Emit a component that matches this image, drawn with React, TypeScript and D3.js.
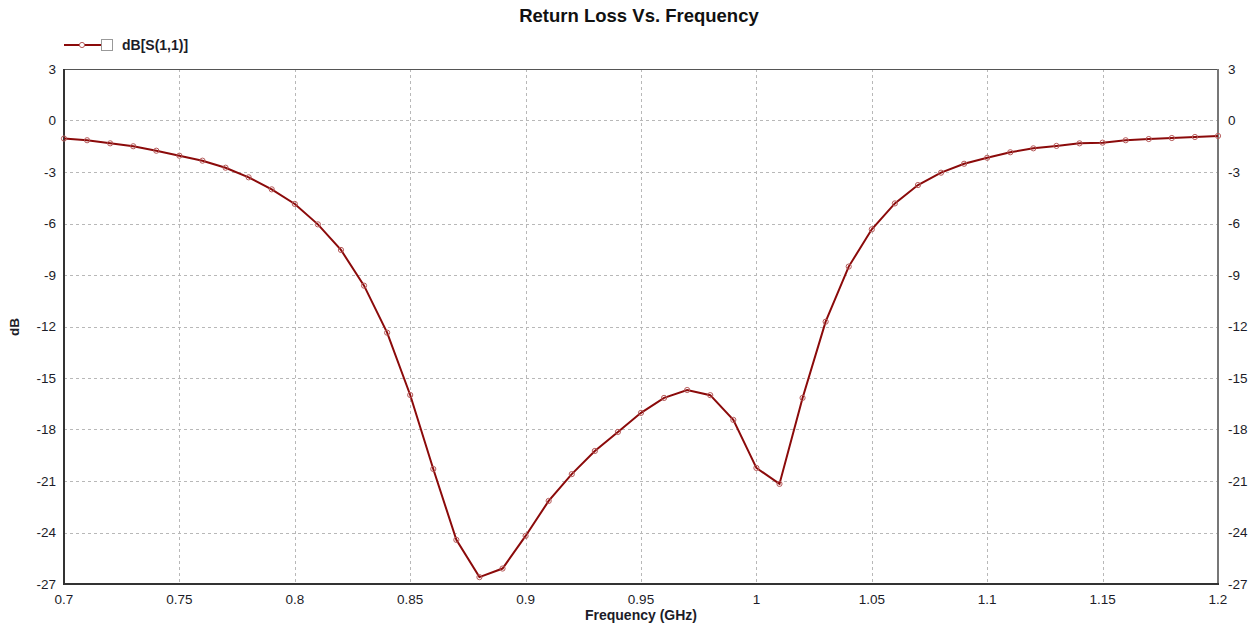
import React, { useEffect, useRef } from "react"
import * as d3 from "d3"

const freqs = [
  0.7, 0.71, 0.72, 0.73, 0.74, 0.75, 0.76, 0.77, 0.78, 0.79, 0.8, 0.81, 0.82, 0.83, 0.84, 0.85, 0.86,
  0.87, 0.88, 0.89, 0.9, 0.91, 0.92, 0.93, 0.94, 0.95, 0.96, 0.97, 0.98, 0.99, 1.0, 1.01, 1.02, 1.03,
  1.04, 1.05, 1.06, 1.07, 1.08, 1.09, 1.1, 1.11, 1.12, 1.13, 1.14, 1.15, 1.16, 1.17, 1.18, 1.19, 1.2,
]
const s11 = [
  -1.05, -1.15, -1.33, -1.5, -1.76, -2.05, -2.34, -2.75, -3.31, -4.01, -4.86, -6.05, -7.54, -9.62,
  -12.36, -15.99, -20.3, -24.43, -26.6, -26.1, -24.2, -22.16, -20.6, -19.25, -18.14, -17.03, -16.16,
  -15.7, -16.0, -17.44, -20.24, -21.17, -16.16, -11.72, -8.51, -6.34, -4.83, -3.76, -3.04, -2.52,
  -2.17, -1.85, -1.62, -1.48, -1.33, -1.29, -1.15, -1.08, -1.02, -0.96, -0.9,
]
const xTicks = [0.7, 0.75, 0.8, 0.85, 0.9, 0.95, 1, 1.05, 1.1, 1.15, 1.2]
const yTicks = [3, 0, -3, -6, -9, -12, -15, -18, -21, -24, -27]
const seriesName = "dB[S(1,1)]"

export default function App() {
  const ref = useRef<SVGSVGElement>(null)

  useEffect(() => {
    const width = 1257
    const height = 635
    const margin = { left: 64, right: 39, top: 69, bottom: 51 }
    const svg = d3.select(ref.current)
    svg.selectAll("*").remove()
    const font = "'Liberation Sans', Arial, sans-serif"
    const narrow = "'Liberation Sans Narrow', 'Arial Narrow', 'Liberation Sans', sans-serif"

    const x = d3.scaleLinear().domain([0.7, 1.2]).range([margin.left, width - margin.right])
    const y = d3.scaleLinear().domain([-27, 3]).range([height - margin.bottom, margin.top])

    // grid
    const grid = svg.append("g").attr("stroke", "#b8b8b8").attr("stroke-dasharray", "3,3").attr("stroke-width", 1)
    grid
      .selectAll("line.v")
      .data(xTicks.slice(1, -1))
      .join("line")
      .attr("x1", (d) => Math.round(x(d)) + 0.5)
      .attr("x2", (d) => Math.round(x(d)) + 0.5)
      .attr("y1", margin.top)
      .attr("y2", height - margin.bottom)
    grid
      .selectAll("line.h")
      .data(yTicks.slice(1, -1))
      .join("line")
      .attr("y1", (d) => Math.round(y(d)) + 0.5)
      .attr("y2", (d) => Math.round(y(d)) + 0.5)
      .attr("x1", margin.left)
      .attr("x2", width - margin.right)

    // frame
    const x0 = margin.left
    const x1 = width - margin.right
    const y0 = margin.top
    const y1 = height - margin.bottom
    svg.append("line").attr("x1", x0).attr("x2", x1).attr("y1", y0 + 0.5).attr("y2", y0 + 0.5).attr("stroke", "#555")
    svg.append("line").attr("x1", x1).attr("x2", x1).attr("y1", y0).attr("y2", y1).attr("stroke", "#777").attr("stroke-width", 2)
    svg.append("line").attr("x1", x0).attr("x2", x1 + 1).attr("y1", y1).attr("y2", y1).attr("stroke", "#333").attr("stroke-width", 2)
    svg.append("line").attr("x1", x0).attr("x2", x0).attr("y1", y0).attr("y2", y1 + 1).attr("stroke", "#333").attr("stroke-width", 2)

    // tick labels
    const tickColor = "#1c1c28"
    svg
      .append("g")
      .selectAll("text")
      .data(yTicks)
      .join("text")
      .attr("x", x0 - 8)
      .attr("y", (d) => y(d) + 4.5)
      .attr("text-anchor", "end")
      .attr("font-family", narrow)
      .attr("font-size", 13.5)
      .attr("fill", tickColor)
      .text((d) => d)
    svg
      .append("g")
      .selectAll("text")
      .data(yTicks)
      .join("text")
      .attr("x", x1 + 10)
      .attr("y", (d) => y(d) + 4.5)
      .attr("font-family", narrow)
      .attr("font-size", 13.5)
      .attr("fill", tickColor)
      .text((d) => d)
    svg
      .append("g")
      .selectAll("text")
      .data(xTicks)
      .join("text")
      .attr("x", (d) => x(d))
      .attr("y", y1 + 20)
      .attr("text-anchor", "middle")
      .attr("font-family", narrow)
      .attr("font-size", 13.5)
      .attr("fill", tickColor)
      .text((d) => d3.format("")(d))

    // titles
    svg
      .append("text")
      .attr("x", 639)
      .attr("y", 22)
      .attr("text-anchor", "middle")
      .attr("font-family", font)
      .attr("font-weight", "bold")
      .attr("font-size", 18.5)
      .attr("fill", "#111")
      .text("Return Loss Vs. Frequency")
    svg
      .append("text")
      .attr("x", 641)
      .attr("y", 620)
      .attr("text-anchor", "middle")
      .attr("font-family", narrow)
      .attr("font-weight", "bold")
      .attr("font-size", 14)
      .attr("fill", "#1c1c28")
      .text("Frequency (GHz)")
    svg
      .append("text")
      .attr("transform", `translate(19, 327) rotate(-90)`)
      .attr("text-anchor", "middle")
      .attr("font-family", narrow)
      .attr("font-weight", "bold")
      .attr("font-size", 13.5)
      .attr("fill", "#1c1c28")
      .text("dB")

    // series
    const lineColor = "#8b0a0a"
    const data = freqs.map((f, i) => ({ f, v: s11[i] }))
    const line = d3
      .line<{ f: number; v: number }>()
      .x((d) => x(d.f))
      .y((d) => y(d.v))
    svg
      .append("path")
      .datum(data)
      .attr("d", line)
      .attr("fill", "none")
      .attr("stroke", lineColor)
      .attr("stroke-width", 2)
    svg
      .append("g")
      .selectAll("circle")
      .data(data)
      .join("circle")
      .attr("cx", (d) => x(d.f))
      .attr("cy", (d) => y(d.v))
      .attr("r", 2.6)
      .attr("fill", "none")
      .attr("stroke", "#b55a5a")
      .attr("stroke-width", 1)

    // legend
    const lg = svg.append("g").attr("transform", "translate(64, 45)")
    lg.append("line").attr("x1", 0).attr("x2", 37).attr("y1", 0).attr("y2", 0).attr("stroke", lineColor).attr("stroke-width", 2)
    lg.append("circle").attr("cx", 18).attr("cy", 0).attr("r", 2.6).attr("fill", "#fff").attr("stroke", "#b55a5a")
    lg.append("rect").attr("x", 37.5).attr("y", -5.5).attr("width", 11).attr("height", 11).attr("fill", "#fff").attr("stroke", "#999")
    lg.append("text")
      .attr("x", 58)
      .attr("y", 5)
      .attr("font-family", narrow)
      .attr("font-weight", "bold")
      .attr("font-size", 14)
      .attr("fill", "#1c1c28")
      .text(seriesName)
  }, [])

  return (
    <svg
      ref={ref}
      width={1257}
      height={635}
      style={{ position: "absolute", left: 0, top: 0, background: "#fff" }}
    />
  )
}
